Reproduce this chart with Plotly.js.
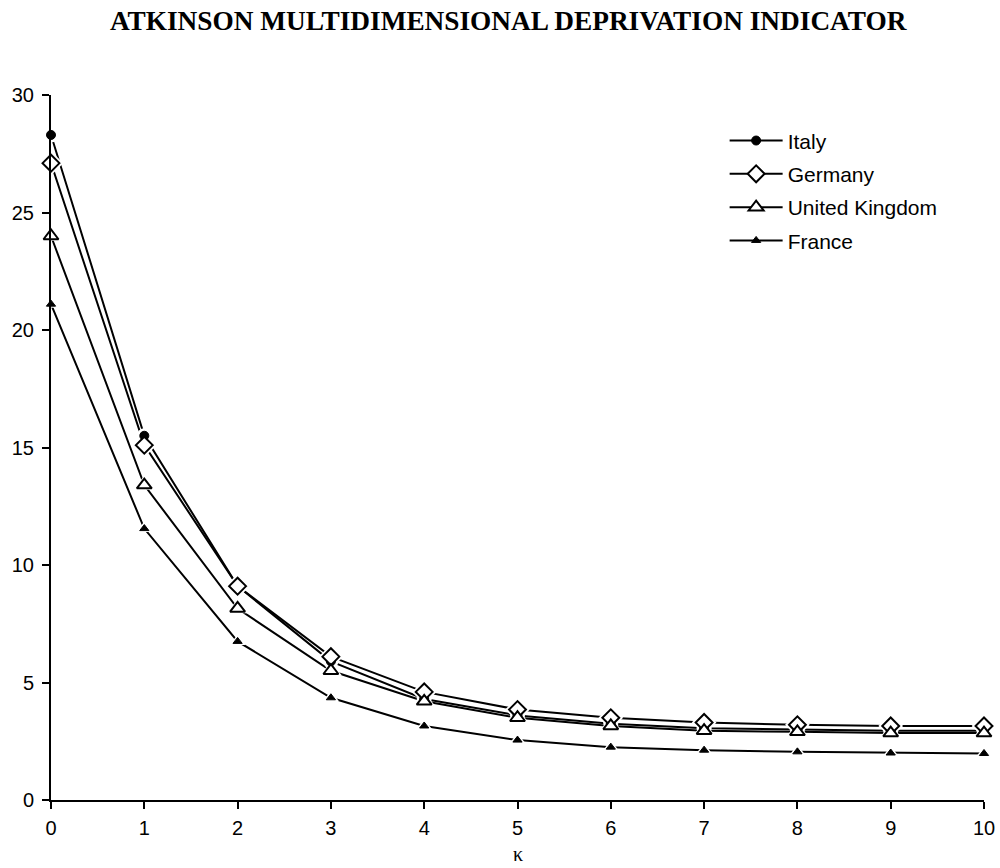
<!DOCTYPE html>
<html>
<head>
<meta charset="utf-8">
<script src="https://cdn.plot.ly/plotly-3.0.1.min.js"></script>
<style>html,body{margin:0;padding:0;background:#fff;}#chart{width:1000px;height:868px;}</style>
</head>
<body>
<div id="chart"></div>
<script>
var kappa = [0, 1, 2, 3, 4, 5, 6, 7, 8, 9, 10];
var seriesNames = ["Italy", "Germany", "United Kingdom", "France"];
var italy   = [28.3, 15.5, 9.1, 5.9, 4.3, 3.6, 3.25, 3.05, 3.0, 2.95, 2.95];
var germany = [27.1, 15.1, 9.1, 6.1, 4.6, 3.85, 3.5, 3.3, 3.2, 3.15, 3.15];
var uk      = [24.0, 13.4, 8.15, 5.5, 4.2, 3.5, 3.15, 2.95, 2.9, 2.85, 2.85];
var france  = [21.1, 11.55, 6.75, 4.35, 3.15, 2.55, 2.25, 2.12, 2.05, 2.0, 1.98];
var yTicks = [0, 5, 10, 15, 20, 25, 30];
var xTicks = kappa;
var xTitle = "κ";

var values = [italy, germany, uk, france];
var markerStyles = [
  {symbol: "circle", size: 9, color: "#000", line: {color: "#000", width: 1}},
  {symbol: "diamond", size: 13, color: "#fff", line: {color: "#000", width: 2}},
  {symbol: "triangle-up", size: 13, color: "#fff", line: {color: "#000", width: 2}},
  {symbol: "triangle-up", size: 8, color: "#000", line: {color: "#000", width: 1}}
];

var traces = [];
values.forEach(function (v) {
  traces.push({x: kappa, y: v, type: "scatter", mode: "lines", showlegend: false,
    line: {color: "#000", width: 2}, cliponaxis: false, hoverinfo: "skip"});
});
values.forEach(function (v, i) {
  var m = markerStyles[i];
  traces.push({x: kappa, y: v, type: "scatter", mode: "markers", showlegend: false,
    marker: {symbol: m.symbol, size: m.size + 6, color: "#fff", line: {color: "#fff", width: 0}},
    cliponaxis: false, hoverinfo: "skip"});
});
values.forEach(function (v, i) {
  traces.push({x: kappa, y: v, type: "scatter", mode: "markers", showlegend: false,
    marker: markerStyles[i], cliponaxis: false, name: seriesNames[i]});
});
seriesNames.forEach(function (n, i) {
  traces.push({x: [null], y: [null], type: "scatter", mode: "lines+markers", name: n,
    legendgroup: "g" + i, line: {color: "#000", width: 2}, marker: markerStyles[i]});
});

var layout = {
  width: 1000, height: 868,
  margin: {l: 51, r: 16, t: 95, b: 68},
  paper_bgcolor: "#fff", plot_bgcolor: "#fff",
  font: {family: "Arial, 'Liberation Sans', sans-serif", size: 20, color: "#000"},
  title: {text: "<b>ATKINSON MULTIDIMENSIONAL DEPRIVATION INDICATOR</b>",
    font: {family: "'Times New Roman', 'Liberation Serif', serif", size: 27.3, color: "#000"},
    x: 0.49, xanchor: "center", xref: "paper", y: 0.977, yanchor: "middle"},
  xaxis: {range: [0, 10], tickvals: xTicks, ticktext: xTicks.map(String),
    showgrid: false, zeroline: false, showline: true, linecolor: "#000", linewidth: 2,
    ticks: "outside", ticklen: 7, tickwidth: 2, tickcolor: "#000", ticklabelstandoff: 2,
    automargin: false},
  yaxis: {range: [0, 30], tickvals: yTicks, ticktext: yTicks.map(String),
    showgrid: false, zeroline: false, showline: true, linecolor: "#000", linewidth: 2,
    ticks: "outside", ticklen: 7, tickwidth: 2, tickcolor: "#000", ticklabelstandoff: 4},
  annotations: [{text: xTitle, xref: "paper", yref: "paper", x: 0.5, y: -0.095,
    xanchor: "center", yanchor: "bottom", showarrow: false,
    font: {family: "'Times New Roman', 'Liberation Serif', serif", size: 20, color: "#000"}}],
  showlegend: true,
  legend: {x: 0.722, xanchor: "left", y: 0.964, yanchor: "top",
    font: {size: 21, family: "Arial, 'Liberation Sans', sans-serif"},
    bgcolor: "rgba(0,0,0,0)", borderwidth: 0, tracegroupgap: 3, itemwidth: 53}
};

Plotly.newPlot("chart", traces, layout, {displayModeBar: false, staticPlot: true});
</script>
</body>
</html>
